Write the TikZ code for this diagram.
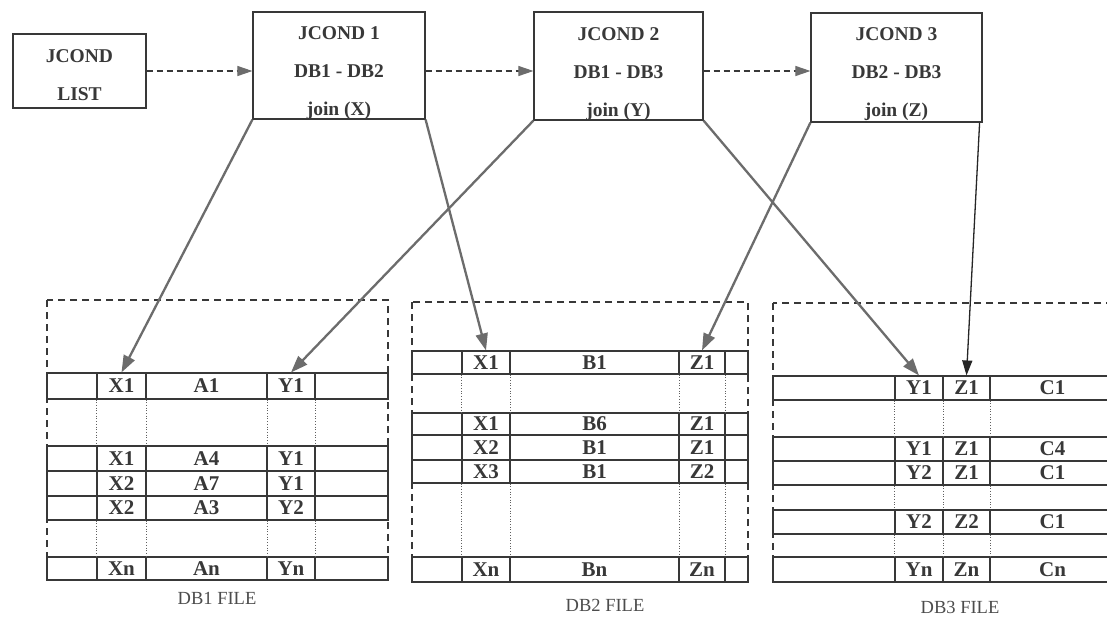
\documentclass[tikz,border=0pt]{standalone}
\usepackage{fontspec}
\setmainfont{Liberation Serif}
\usetikzlibrary{arrows.meta,calc}
\definecolor{ink}{HTML}{383838}
\definecolor{linkgray}{HTML}{6C6C6C}
\tikzset{
  box/.style={draw=ink, line width=1.2pt, fill=white, inner sep=0pt},
  boxtext/.style={text=ink, font=\bfseries\fontsize{19.5}{38}\selectfont, align=center, inner sep=0pt},
  cell/.style={draw=ink, line width=1.1pt, inner sep=0pt, text=ink, font=\bfseries\fontsize{21}{21}\selectfont},
  frame/.style={draw=ink, line width=1.1pt, dash pattern=on 7pt off 5pt},
  gapline/.style={draw=ink!80, line width=0.7pt, dotted},
  link/.style={draw=linkgray, line width=2.3pt, -{Triangle[length=17pt,width=12pt]}},
  blink/.style={draw=black!85, line width=1.3pt, -{Triangle[length=15pt,width=10pt]}},
  dasharrow/.style={draw=ink, line width=1.1pt, dash pattern=on 6pt off 4pt, -{Triangle[length=15pt,width=10pt,color=linkgray,fill=linkgray]}},
  caption/.style={text=ink!90, inner sep=0pt, font=\fontsize{18.5}{18.5}\selectfont},
}
\newcommand\mycell[6]{\node[cell,minimum width={(#4-#2)*1pt},minimum height={(#5-#3)*1pt}] (#1) at ({(#2+#4)/2},{(#3+#5)/2}) {#6};}
% DB1: columns 47 97 146 267 315 388
\newcommand\rowA[6]{\mycell{#1a}{47}{#2}{97}{#3}{}\mycell{#1x}{97}{#2}{146}{#3}{#4}\mycell{#1m}{146}{#2}{267}{#3}{#5}\mycell{#1y}{267}{#2}{315}{#3}{#6}\mycell{#1b}{315}{#2}{388}{#3}{}}
% DB2: columns 412 462 510 679 725 748
\newcommand\rowB[6]{\mycell{#1a}{412}{#2}{462}{#3}{}\mycell{#1x}{462}{#2}{510}{#3}{#4}\mycell{#1m}{510}{#2}{679}{#3}{#5}\mycell{#1z}{679}{#2}{725}{#3}{#6}\mycell{#1b}{725}{#2}{748}{#3}{}}
% DB3: columns 773 895 943 990 1115
\newcommand\rowC[6]{\mycell{#1a}{773}{#2}{895}{#3}{}\mycell{#1y}{895}{#2}{943}{#3}{#4}\mycell{#1z}{943}{#2}{990}{#3}{#5}\mycell{#1c}{990}{#2}{1115}{#3}{#6}}
\begin{document}
\begin{tikzpicture}[x=1pt,y=-1pt]
\useasboundingbox[fill=white] (0,0) rectangle (1107,621);

% top boxes
\node[box, minimum width=133pt, minimum height=74pt] (list) at (79.5,71) {};
\node[boxtext] (listtext) at ($(list.center)+(0,4)$) {JCOND\\LIST};
\node[box, minimum width=172pt, minimum height=107pt] (j1) at (339,65.5) {};
\node[boxtext] (j1text) at ($(j1.center)+(0,8)$) {JCOND 1\\DB1 - DB2\\join (X)};
\node[box, minimum width=169pt, minimum height=108pt] (j2) at (618.5,66) {};
\node[boxtext] (j2text) at ($(j2.center)+(0,8)$) {JCOND 2\\DB1 - DB3\\join (Y)};
\node[box, minimum width=171pt, minimum height=109pt] (j3) at (896.5,67.5) {};
\node[boxtext] (j3text) at ($(j3.center)+(0,7)$) {JCOND 3\\DB2 - DB3\\join (Z)};

\draw[dasharrow] (list.east) -- (list.east -| j1.west);
\draw[dasharrow] (j1.east |- list.east) -- (j2.west |- list.east);
\draw[dasharrow] (j2.east |- list.east) -- (j3.west |- list.east);

% frames
\draw[frame] (47,300) rectangle (388,580);
\draw[frame] (412,302) rectangle (748,582);
\draw[frame] (773,303) rectangle (1120,582);

% DB1 rows
\rowA{pa}{373}{399}{X1}{A1}{Y1}
\rowA{pb}{446}{471}{X1}{A4}{Y1}
\rowA{pc}{471}{496}{X2}{A7}{Y1}
\rowA{pd}{496}{520}{X2}{A3}{Y2}
\rowA{pn}{557}{580}{Xn}{An}{Yn}
\foreach \c in {x,m,y}{
  \draw[gapline] (pa\c.south east) -- (pb\c.north east);
  \draw[gapline] (pd\c.south east) -- (pn\c.north east);
}
\draw[gapline] (pax.south west) -- (pbx.north west);
\draw[gapline] (pdx.south west) -- (pnx.north west);

% DB2 rows
\rowB{qa}{351}{374}{X1}{B1}{Z1}
\rowB{qb}{413}{435}{X1}{B6}{Z1}
\rowB{qc}{435}{460}{X2}{B1}{Z1}
\rowB{qd}{460}{483}{X3}{B1}{Z2}
\rowB{qn}{557}{582}{Xn}{Bn}{Zn}
\foreach \c in {x,m,z}{
  \draw[gapline] (qa\c.south east) -- (qb\c.north east);
  \draw[gapline] (qd\c.south east) -- (qn\c.north east);
}
\draw[gapline] (qax.south west) -- (qbx.north west);
\draw[gapline] (qdx.south west) -- (qnx.north west);

% DB3 rows
\rowC{ra}{376}{400}{Y1}{Z1}{C1}
\rowC{rb}{437}{461}{Y1}{Z1}{C4}
\rowC{rc}{461}{485}{Y2}{Z1}{C1}
\rowC{rd}{510}{534}{Y2}{Z2}{C1}
\rowC{rn}{557}{582}{Yn}{Zn}{Cn}
\foreach \c in {y,z}{
  \draw[gapline] (ra\c.south east) -- (rb\c.north east);
  \draw[gapline] (rc\c.south east) -- (rd\c.north east);
  \draw[gapline] (rd\c.south east) -- (rn\c.north east);
}
\draw[gapline] (ray.south west) -- (rby.north west);
\draw[gapline] (rcy.south west) -- (rdy.north west);
\draw[gapline] (rdy.south west) -- (rny.north west);

% captions
\node[caption] (cap1) at (217,598) {DB1 FILE};
\node[caption] (cap2) at (605,605) {DB2 FILE};
\node[caption] (cap3) at (960,607) {DB3 FILE};

% links
\draw[link] (j1.south west) -- (pax.north);
\draw[link] (j1.south east) -- (qax.north);
\draw[link] (j2.south west) -- (pay.north);
\draw[link] (j2.south east) -- (ray.north);
\draw[link] (j3.south west) -- (qaz.north);
\draw[blink] ([xshift=-3pt]j3.south east) -- (raz.north);
\end{tikzpicture}
\end{document}
